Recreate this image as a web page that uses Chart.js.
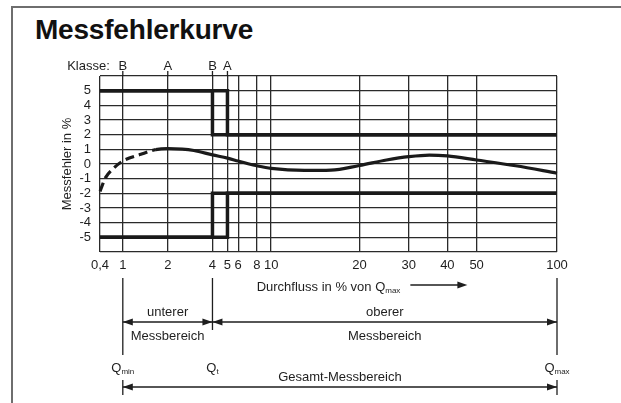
<!DOCTYPE html>
<html lang="de">
<head>
<meta charset="utf-8">
<title>Messfehlerkurve</title>
<script src="https://cdn.jsdelivr.net/npm/chart.js@4.4.1/dist/chart.umd.min.js"></script>
<style>
    html, body { margin: 0; padding: 0; background: #fff; }
    #rahmen {
        position: absolute; left: 11px; top: 6px; width: 610px; height: 397px;
        border-top: 2px solid #6e6e6e; border-left: 2px solid #6e6e6e;
    }
    #titel {
        position: absolute; left: 35px; top: 16px; margin: 0;
        font: bold 28px/28px "Liberation Sans", Arial, sans-serif;
        color: #111; letter-spacing: -0.2px;
    }
    #diagramm { position: absolute; left: 0; top: 0; }
</style>
</head>
<body>
<div id="rahmen"></div>
<h1 id="titel">Messfehlerkurve</h1>
<canvas id="diagramm" width="621" height="403"></canvas>
<script>
// Durchfluss in % von Qmax (Teilstriche der x-Achse)
const achsenWerte = [0.4, 1, 2, 4, 5, 6, 8, 10, 20, 30, 40, 50, 100];
const achsenLabels = ['0,4', '1', '2', '4', '5', '6', '8', '10', '20', '30', '40', '50', '100'];
// Lage der Teilstriche (Anteil der Achsenbreite) - die Achse ist nur abschnittsweise logarithmisch
const achsenLage = [0, 0.0499, 0.1483, 0.2461, 0.2789, 0.3023, 0.3430, 0.3745, 0.5676, 0.6754, 0.7601, 0.8241, 1];

// Messfehler in % (y-Achse)
const fehlerMin = -6;
const fehlerMax = 6;

// Klassen-Markierungen oberhalb des Diagramms
const klasseWerte = [1, 2, 4, 5];
const klasseLabels = ['B', 'A', 'B', 'A'];

// Fehlergrenzen Klasse B
const grenzeB_x = [0.4, 4, 4, 100];
const grenzeB_oben = [5, 5, 2, 2];
const grenzeB_unten = [-5, -5, -2, -2];
// Fehlergrenzen Klasse A
const grenzeA_x = [0.4, 5, 5, 100];
const grenzeA_oben = [5, 5, 2, 2];
const grenzeA_unten = [-5, -5, -2, -2];

// Messfehlerkurve (bis strichBis gestrichelt)
const kurve_x = [0.4, 0.5, 0.66, 1, 1.32, 1.66, 2, 2.5, 3, 4, 5, 6, 7, 8, 10, 13, 16, 20, 25, 30, 35, 40, 50, 70, 100];
const kurve_y = [-1.86, -0.93, -0.36, 0.2, 0.66, 0.98, 1.05, 1.02, 0.92, 0.62, 0.4, 0.2, 0.02, -0.12, -0.3, -0.44, -0.42, -0.1, 0.27, 0.5, 0.61, 0.55, 0.27, -0.12, -0.63];
const strichBis = 1.66;

// Messbereiche
const qMin = 1;
const qT = 4;
const qMax = 100;

const schrift = '"Liberation Sans", Arial, sans-serif';
const farbe = '#1e1e1e';

// Anteil auf der Achse für einen Durchflusswert (log-Interpolation zwischen den Teilstrichen)
function anteil(wert) {
    if (wert <= achsenWerte[0]) return 0;
    for (let i = 0; i < achsenWerte.length - 1; i++) {
        const a = achsenWerte[i], b = achsenWerte[i + 1];
        if (wert <= b) {
            const t = (Math.log10(wert) - Math.log10(a)) / (Math.log10(b) - Math.log10(a));
            return achsenLage[i] + t * (achsenLage[i + 1] - achsenLage[i]);
        }
    }
    return 1;
}

function wertAusAnteil(d) {
    for (let i = 0; i < achsenLage.length - 1; i++) {
        if (d <= achsenLage[i + 1]) {
            const t = (d - achsenLage[i]) / (achsenLage[i + 1] - achsenLage[i]);
            const la = Math.log10(achsenWerte[i]), lb = Math.log10(achsenWerte[i + 1]);
            return Math.pow(10, la + t * (lb - la));
        }
    }
    return achsenWerte[achsenWerte.length - 1];
}

// Eigene Skala: wie im Original nicht durchgehend logarithmisch
class KnickLogSkala extends Chart.LinearScale {
    determineDataLimits() {
        this.min = achsenWerte[0];
        this.max = achsenWerte[achsenWerte.length - 1];
    }
    buildTicks() {
        return achsenWerte.map(v => ({ value: v }));
    }
    getPixelForValue(value) {
        return this.getPixelForDecimal(anteil(value));
    }
    getValueForPixel(pixel) {
        return wertAusAnteil(this.getDecimalForPixel(pixel));
    }
}
KnickLogSkala.id = 'knicklog';
KnickLogSkala.defaults = {};
Chart.register(KnickLogSkala);

function punkte(xs, ys) {
    return xs.map((x, i) => ({ x: x, y: ys[i] }));
}

function pfeilSpitze(ctx, x, y, richtung) {
    ctx.beginPath();
    ctx.moveTo(x, y);
    ctx.lineTo(x - richtung * 10, y - 3.5);
    ctx.lineTo(x - richtung * 10, y + 3.5);
    ctx.closePath();
    ctx.fill();
}

function linie(ctx, x1, y1, x2, y2) {
    ctx.beginPath();
    ctx.moveTo(x1, y1);
    ctx.lineTo(x2, y2);
    ctx.stroke();
}

// Q mit tiefgestelltem Index, zentriert
function qText(ctx, index, x, y) {
    ctx.font = '13px ' + schrift;
    const wq = ctx.measureText('Q').width;
    ctx.font = '8px ' + schrift;
    const wi = ctx.measureText(index).width;
    const start = x - (wq + wi) / 2;
    ctx.textAlign = 'left';
    ctx.textBaseline = 'alphabetic';
    ctx.font = '13px ' + schrift;
    ctx.fillText('Q', start, y + 5);
    ctx.font = '8px ' + schrift;
    ctx.fillText(index, start + wq, y + 7);
    return start + wq + wi;
}

const anmerkungen = {
    id: 'anmerkungen',
    afterDraw(chart) {
        const ctx = chart.ctx;
        const sx = chart.scales.x;
        const area = chart.chartArea;
        ctx.save();
        ctx.fillStyle = farbe;
        ctx.strokeStyle = farbe;
        ctx.lineWidth = 1.3;

        // Klasse: B A B A
        ctx.font = '13px ' + schrift;
        ctx.textBaseline = 'middle';
        ctx.textAlign = 'right';
        ctx.fillText('Klasse:', sx.getPixelForValue(klasseWerte[0]) - 13, area.top - 10);
        ctx.textAlign = 'center';
        klasseWerte.forEach((w, i) => {
            const px = sx.getPixelForValue(w);
            ctx.fillText(klasseLabels[i], px, area.top - 10);
            linie(ctx, px, area.top - 5, px, area.top);
        });

        // Durchfluss-Beschriftung mit Pfeil
        const mitte = (area.left + area.right) / 2;
        ctx.font = '13px ' + schrift;
        const t1 = 'Durchfluss in % von ';
        const w1 = ctx.measureText(t1).width;
        const wq = ctx.measureText('Q').width;
        ctx.font = '8px ' + schrift;
        const wmax = ctx.measureText('max').width;
        const startX = mitte - (w1 + wq + wmax) / 2;
        ctx.font = '13px ' + schrift;
        ctx.textAlign = 'left';
        ctx.textBaseline = 'alphabetic';
        ctx.fillText(t1, startX, 291);
        const endeText = qText(ctx, 'max', startX + w1 + (wq + wmax) / 2, 286);
        linie(ctx, endeText + 10, 285, endeText + 60, 285);
        pfeilSpitze(ctx, endeText + 67, 285, 1);

        // Bereichsgrenzen
        const pMin = sx.getPixelForValue(qMin);
        const pT = sx.getPixelForValue(qT);
        const pMax = sx.getPixelForValue(qMax);
        linie(ctx, pMin, 278, pMin, 355);
        linie(ctx, pT, 278, pT, 330);
        linie(ctx, pMax, 278, pMax, 355);

        // unterer / oberer Messbereich
        linie(ctx, pMin, 322, pT, 322);
        linie(ctx, pT, 322, pMax, 322);
        pfeilSpitze(ctx, pMin, 322, -1);
        pfeilSpitze(ctx, pT, 322, 1);
        pfeilSpitze(ctx, pT, 322, -1);
        pfeilSpitze(ctx, pMax, 322, 1);
        ctx.font = '13px ' + schrift;
        ctx.textAlign = 'center';
        ctx.textBaseline = 'middle';
        ctx.fillText('unterer', (pMin + pT) / 2, 312);
        ctx.fillText('Messbereich', (pMin + pT) / 2, 336);
        ctx.fillText('oberer', (pT + pMax) / 2, 312);
        ctx.fillText('Messbereich', (pT + pMax) / 2, 336);

        // Q-Beschriftungen
        qText(ctx, 'min', pMin, 367);
        qText(ctx, 't', pT, 367);
        qText(ctx, 'max', pMax, 367);

        // Gesamt-Messbereich
        ctx.font = '13px ' + schrift;
        ctx.textAlign = 'center';
        ctx.textBaseline = 'middle';
        ctx.fillText('Gesamt-Messbereich', (pMin + pMax) / 2, 377);
        linie(ctx, pMin, 387, pMax, 387);
        pfeilSpitze(ctx, pMin, 387, -1);
        pfeilSpitze(ctx, pMax, 387, 1);
        linie(ctx, pMin, 380, pMin, 395);
        linie(ctx, pMax, 380, pMax, 395);

        ctx.restore();
    }
};

Chart.defaults.font.family = schrift;
Chart.defaults.font.size = 13;
Chart.defaults.color = farbe;

const grenzStil = {
    borderColor: '#1a1a1a',
    borderWidth: 3.5,
    pointRadius: 0,
    tension: 0,
    fill: false,
    borderJoinStyle: 'miter',
    borderCapStyle: 'butt'
};

const ctx = document.getElementById('diagramm').getContext('2d');
new Chart(ctx, {
    type: 'line',
    data: {
        datasets: [
            Object.assign({ label: 'Klasse B oben', data: punkte(grenzeB_x, grenzeB_oben) }, grenzStil),
            Object.assign({ label: 'Klasse A oben', data: punkte(grenzeA_x, grenzeA_oben) }, grenzStil),
            Object.assign({ label: 'Klasse B unten', data: punkte(grenzeB_x, grenzeB_unten) }, grenzStil),
            Object.assign({ label: 'Klasse A unten', data: punkte(grenzeA_x, grenzeA_unten) }, grenzStil),
            {
                label: 'Messfehler',
                data: punkte(kurve_x, kurve_y),
                borderColor: '#1a1a1a',
                borderWidth: 3.2,
                pointRadius: 0,
                fill: false,
                cubicInterpolationMode: 'monotone',
                segment: {
                    borderDash: c => c.p1.parsed.x <= strichBis ? [9, 5] : undefined
                }
            }
        ]
    },
    options: {
        responsive: false,
        animation: false,
        devicePixelRatio: 1,
        layout: { padding: { left: 55, right: 64, top: 76, bottom: 121 } },
        plugins: {
            legend: { display: false },
            tooltip: { enabled: false }
        },
        scales: {
            x: {
                type: 'knicklog',
                position: 'bottom',
                afterFit: s => { s.height = 30; },
                border: { display: false },
                grid: { color: '#2a2a2a', lineWidth: 1.3, drawTicks: false },
                ticks: {
                    autoSkip: false,
                    maxRotation: 0,
                    padding: 6,
                    callback: (v, i) => achsenLabels[i]
                }
            },
            y: {
                type: 'linear',
                min: fehlerMin,
                max: fehlerMax,
                afterFit: s => { s.width = 45; },
                border: { display: false },
                grid: { color: '#2a2a2a', lineWidth: 1.3, drawTicks: false },
                ticks: {
                    stepSize: 1,
                    autoSkip: false,
                    padding: 9,
                    callback: v => Math.abs(v) > 5 ? '' : String(v)
                },
                title: {
                    display: true,
                    text: 'Messfehler in %',
                    padding: { top: 5, bottom: 0 }
                }
            }
        }
    },
    plugins: [anmerkungen]
});
</script>
</body>
</html>
